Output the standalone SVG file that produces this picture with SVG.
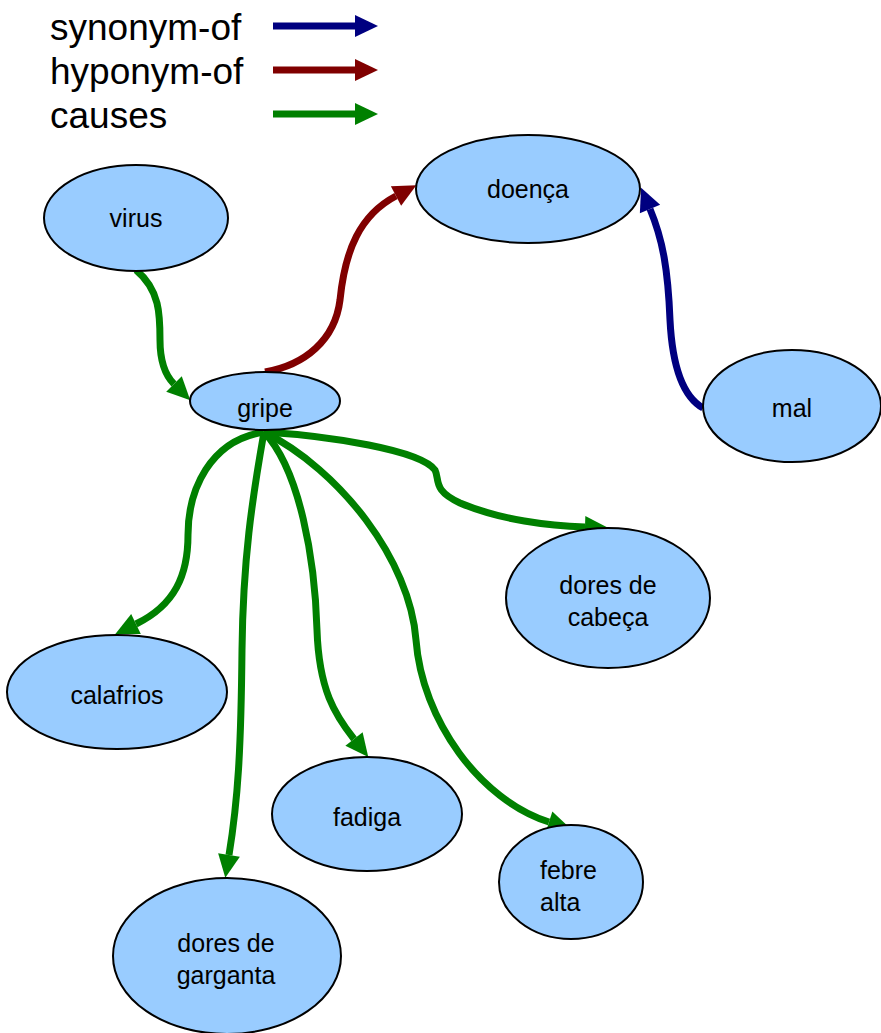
<svg xmlns="http://www.w3.org/2000/svg" width="881" height="1033" viewBox="0 0 881 1033">
<style>
.node ellipse{fill:#99ccff;stroke:#000;stroke-width:2}
.node text{font-family:"Liberation Sans",Arial,sans-serif;font-size:25px;fill:#000;text-anchor:middle}
.legend text{font-family:"Liberation Sans",Arial,sans-serif;font-size:37px;fill:#000}
.syn{stroke:#000080;stroke-width:7;fill:none}
.hyp{stroke:#800000;stroke-width:7;fill:none}
.cau{stroke:#008000;stroke-width:7;fill:none}
</style>
<defs>
<marker id="mSyn" markerUnits="userSpaceOnUse" markerWidth="24" markerHeight="22" refX="0" refY="11" orient="auto" overflow="visible"><path d="M0,0 L23,11 L0,22 z" fill="#000080"/></marker>
<marker id="mHyp" markerUnits="userSpaceOnUse" markerWidth="24" markerHeight="22" refX="0" refY="11" orient="auto" overflow="visible"><path d="M0,0 L23,11 L0,22 z" fill="#800000"/></marker>
<marker id="mCau" markerUnits="userSpaceOnUse" markerWidth="24" markerHeight="22" refX="0" refY="11" orient="auto" overflow="visible"><path d="M0,0 L23,11 L0,22 z" fill="#008000"/></marker>
</defs>
<rect width="881" height="1033" fill="#fff"/>
<g id="legend" class="legend">
<text x="50" y="40">synonym-of</text>
<text x="50" y="84">hyponym-of</text>
<text x="50" y="128">causes</text>
<path class="syn" d="M273,26 L355,26" marker-end="url(#mSyn)"/>
<path class="hyp" d="M273,70 L355,70" marker-end="url(#mHyp)"/>
<path class="cau" d="M273,114 L355,114" marker-end="url(#mCau)"/>
</g>
<g id="connectors">
<path class="cau" d="M136,270 C160,290 160,315 160,340 C160,360 165,375 174,384" marker-end="url(#mCau)"/>
<path class="hyp" d="M265,372 C305,365 335,340 340,300 C345,250 360,215 396,196" marker-end="url(#mHyp)"/>
<path class="syn" d="M703,408 C680,395 672,360 670,320 C668,270 663,240 650,209" marker-end="url(#mSyn)"/>
<path class="cau" d="M264,432 C330,436 420,450 435,470 C440,480 432,490 460,503 C500,520 550,526 585,527" marker-end="url(#mCau)"/>
<path class="cau" d="M264,432 C210,440 188,490 188,535 C188,575 175,605 136,624" marker-end="url(#mCau)"/>
<path class="cau" d="M264,432 C252,500 243,560 242,650 C241,750 238,800 229,855" marker-end="url(#mCau)"/>
<path class="cau" d="M264,432 C300,470 315,560 317,630 C319,690 335,715 354,739" marker-end="url(#mCau)"/>
<path class="cau" d="M264,432 C340,470 410,560 416,640 C422,720 480,800 549,822" marker-end="url(#mCau)"/>
</g>
<g id="virus" class="node"><ellipse cx="136" cy="218" rx="92" ry="53"/><text x="136" y="227">virus</text></g>
<g id="doenca" class="node"><ellipse cx="528" cy="189" rx="112" ry="54"/><text x="528" y="198">doença</text></g>
<g id="gripe" class="node"><ellipse cx="265" cy="401" rx="75" ry="29"/><text x="265" y="417">gripe</text></g>
<g id="mal" class="node"><ellipse cx="792" cy="406" rx="89" ry="56"/><text x="792" y="417">mal</text></g>
<g id="dores-cabeca" class="node"><ellipse cx="608" cy="598" rx="102" ry="70"/><text x="608" y="594">dores de</text><text x="608" y="626">cabeça</text></g>
<g id="calafrios" class="node"><ellipse cx="117" cy="692" rx="110" ry="57"/><text x="117" y="704">calafrios</text></g>
<g id="fadiga" class="node"><ellipse cx="367" cy="814" rx="95" ry="57"/><text x="367" y="826">fadiga</text></g>
<g id="febre-alta" class="node"><ellipse cx="571" cy="882" rx="72" ry="57"/><text x="540" y="879" style="text-anchor:start">febre</text><text x="540" y="911" style="text-anchor:start">alta</text></g>
<g id="dores-garganta" class="node"><ellipse cx="227" cy="956" rx="114" ry="78"/><text x="226" y="952">dores de</text><text x="226" y="984">garganta</text></g>
</svg>
